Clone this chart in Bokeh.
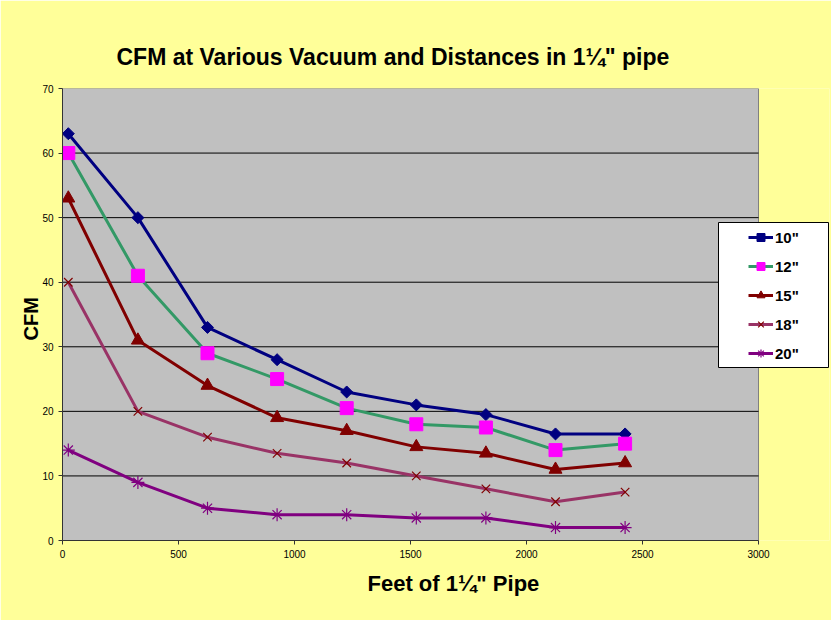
import math
from bokeh.plotting import figure
from bokeh.models import (Range1d, Legend, LegendItem, Title, BoxAnnotation,
                          FixedTicker)
from bokeh.embed import file_html
from bokeh.resources import INLINE

# ---- data ----
feet = [25, 325, 625, 925, 1225, 1525, 1825, 2125, 2425]
cfm_10 = [63, 50, 33, 28, 23, 21, 19.5, 16.5, 16.5]
cfm_12 = [60, 41, 29, 25, 20.5, 18, 17.5, 14, 15]
cfm_15 = [53, 31, 24, 19, 17, 14.5, 13.5, 11, 12]
cfm_18 = [40, 20, 16, 13.5, 12, 10, 8, 6, 7.5]
cfm_20 = [14, 9, 5, 4, 4, 3.5, 3.5, 2, 2]
series_names = ['10"', '12"', '15"', '18"', '20"']
x_ticks = [0, 500, 1000, 1500, 2000, 2500, 3000]
y_ticks = [0, 10, 20, 30, 40, 50, 60, 70]

FONT = "Liberation Sans"
YELLOW = "#FFFF99"

# layout: plot area is 696px for 0..3000; the frame is widened to 767px so the
# legend (which overlaps the right edge of the grey area) is not clipped.
AREA_W = 696
FRAME_W = 767
x_end = x_ticks[-1] * FRAME_W / AREA_W

p = figure(width=831, height=620, output_backend="svg", toolbar_location=None,
           x_range=Range1d(0, x_end), y_range=Range1d(y_ticks[0], y_ticks[-1]),
           min_border_left=62, min_border_right=2, min_border_top=88,
           min_border_bottom=80)
p.background_fill_color = YELLOW
p.border_fill_color = YELLOW
p.outline_line_color = None
p.xgrid.visible = False
p.ygrid.visible = False

# grey plot area
area = BoxAnnotation(left=x_ticks[0], right=x_ticks[-1], bottom=y_ticks[0], top=y_ticks[-1],
                     fill_color="#C0C0C0", fill_alpha=1,
                     line_color="#808080", line_width=1, line_alpha=1,
                     level="underlay")
p.add_layout(area)

# horizontal grid lines (black) inside the grey area
gy = y_ticks[1:-1]
p.segment(x0=[x_ticks[0]] * len(gy), x1=[x_ticks[-1]] * len(gy), y0=gy, y1=gy,
          line_color="black", line_width=1)

for ax in (p.xaxis[0], p.yaxis[0]):
    ax.axis_line_color = "#333333"
    ax.major_tick_line_color = "#333333"
    ax.major_tick_out = 4
    ax.major_tick_in = 0
    ax.minor_tick_line_color = None
    ax.major_label_text_font = FONT
    ax.major_label_text_font_size = "10px"
    ax.major_label_text_color = "black"
p.xaxis.ticker = FixedTicker(ticks=x_ticks)
p.yaxis.ticker = FixedTicker(ticks=y_ticks)
p.xaxis.bounds = (x_ticks[0], x_ticks[-1])
p.xaxis.major_label_standoff = 5
p.yaxis.major_label_standoff = 5

styles = [
    dict(data=cfm_10, line="#000080", marker="square", angle=math.pi / 4, size=8.5,
         fill="#000080", mline="#000080", mwidth=1),
    dict(data=cfm_12, line="#339966", marker="square", angle=0, size=13,
         fill="#FF00FF", mline="#FF00FF", mwidth=1),
    dict(data=cfm_15, line="#800000", marker="triangle", angle=0, size=13,
         fill="#800000", mline="#800000", mwidth=1),
    dict(data=cfm_18, line="#993366", marker="x", angle=0, size=12,
         fill=None, mline="#800000", mwidth=1.2),
    dict(data=cfm_20, line="#800080", marker="asterisk", angle=0, size=13,
         fill=None, mline="#800080", mwidth=1.2),
]

items = []
for name, st in zip(series_names, styles):
    ln = p.line(feet, st["data"], line_color=st["line"], line_width=3)
    sc = p.scatter(feet, st["data"], marker=st["marker"], size=st["size"],
                   angle=st["angle"], fill_color=st["fill"],
                   line_color=st["mline"], line_width=st["mwidth"])
    items.append(LegendItem(label=name, renderers=[ln, sc]))

# legend box
box = BoxAnnotation(left=656, right=766, bottom=173, top=318,
                    left_units="screen", right_units="screen",
                    bottom_units="screen", top_units="screen",
                    fill_color="white", fill_alpha=1,
                    line_color="black", line_width=1, line_alpha=1)
p.add_layout(box)

legend = Legend(items=items, location=(686, 177), orientation="vertical",
                background_fill_alpha=0, border_line_color=None,
                padding=0, margin=0, spacing=9,
                glyph_width=25, glyph_height=20, label_height=20,
                label_standoff=2,
                label_text_font=FONT, label_text_font_size="15px",
                label_text_font_style="bold", label_text_color="black")
p.add_layout(legend)

# titles
p.title.text = 'CFM at Various Vacuum and Distances in 1\u00bc" pipe'
p.title.text_font = FONT
p.title.text_font_size = "23px"
p.title.text_font_style = "bold"
p.title.text_color = "black"
p.title.align = "left"
p.title.offset = 54
p.title.standoff = 37

xlab = Title(text='Feet of 1\u00bc" Pipe', align="left", offset=305,
             text_font=FONT, text_font_size="22px", text_font_style="bold",
             text_color="black", standoff=17)
p.add_layout(xlab, "below")

ylab = Title(text="CFM", align="left", offset=200,
             text_font=FONT, text_font_size="20px", text_font_style="bold",
             text_color="black", standoff=-4)
p.add_layout(ylab, "left")

open("out.html", "w").write(file_html(p, INLINE))
